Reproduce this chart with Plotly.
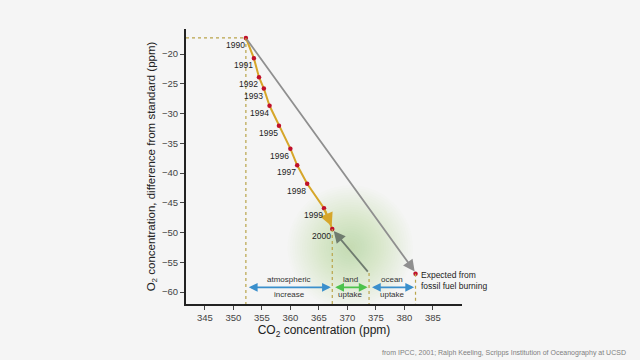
import plotly.graph_objects as go

years = ["1990", "1991", "1992", "1993", "1994", "1995", "1996", "1997", "1998", "1999", "2000"]
co2 = [352.2, 353.6, 354.5, 355.35, 356.35, 358.0, 360.0, 361.2, 362.95, 365.9, 367.35]
o2 = [-17.3, -20.7, -23.9, -25.8, -28.7, -32.05, -35.9, -38.7, -41.8, -45.9, -49.4]
expected_co2 = 381.95
expected_o2 = -56.9
land_co2 = 373.8
land_o2 = -56.8
budget_y = -59.2
budget_labels = [("atmospheric", "increase"), ("land", "uptake"), ("ocean", "uptake")]
x_ticks = [345, 350, 355, 360, 365, 370, 375, 380, 385]
y_ticks = [-20, -25, -30, -35, -40, -45, -50, -55, -60]
glow_center = (370.5, -52.5)

bg = "#f5f5f5"
dot_col = "#b9a44a"
gold = "#d6a62a"
fig = go.Figure()

# green glow
shapes = []
n = 26
for i in range(n):
    r = 11.0 * (n - i) / n
    shapes.append(dict(type="circle", xref="x", yref="y", layer="below",
                       x0=glow_center[0] - r, x1=glow_center[0] + r,
                       y0=glow_center[1] - r * 0.95, y1=glow_center[1] + r * 0.95,
                       fillcolor="rgba(140,215,120,0.018)", line=dict(width=0)))

# dotted guide lines
def dline(x0, y0, x1, y1):
    shapes.append(dict(type="line", xref="x", yref="y", x0=x0, y0=y0, x1=x1, y1=y1,
                       line=dict(color=dot_col, width=1.2, dash="dot")))

dline(341.7, o2[0], co2[0], o2[0])
dline(co2[0], o2[0], co2[0], -62)
dline(co2[-1], o2[-1], co2[-1], -62)
dline(land_co2, land_o2, land_co2, -62)
dline(expected_co2, expected_o2, expected_co2, -62)

# gold line
fig.add_trace(go.Scatter(x=co2, y=o2, mode="lines", line=dict(color=gold, width=2),
                         hoverinfo="skip", showlegend=False))
fig.add_trace(go.Scatter(x=co2 + [expected_co2], y=o2 + [expected_o2], mode="markers",
                         marker=dict(color="#c0102a", size=4.5), showlegend=False))

ann = []
# gold arrowhead
ann.append(dict(x=co2[-1] - 0.1, y=o2[-1] + 0.45, ax=co2[-2], ay=o2[-2], xref="x", yref="y",
                axref="x", ayref="y", showarrow=True, arrowhead=2, arrowsize=1.2,
                arrowwidth=2.2, arrowcolor=gold, text=""))
# gray arrow to expected
ann.append(dict(x=expected_co2 - 0.15, y=expected_o2 + 0.35, ax=co2[0], ay=o2[0], xref="x", yref="y",
                axref="x", ayref="y", showarrow=True, arrowhead=2, arrowsize=1.3,
                arrowwidth=1.8, arrowcolor="#8f8f8f", text=""))
# land uptake arrow
ann.append(dict(x=co2[-1] + 0.25, y=o2[-1] - 0.35, ax=land_co2, ay=land_o2, xref="x", yref="y",
                axref="x", ayref="y", showarrow=True, arrowhead=2, arrowsize=1.3,
                arrowwidth=1.8, arrowcolor="#6f7c6f", text=""))

# budget arrows
segs = [(co2[0], co2[-1], "#3a8fcc"), (co2[-1], land_co2, "#4cc24c"), (land_co2, expected_co2, "#3a8fcc")]
for (a, b, c), (t1, t2) in zip(segs, budget_labels):
    ann.append(dict(x=b - 0.25, y=budget_y, ax=a + 0.25, ay=budget_y, xref="x", yref="y",
                    axref="x", ayref="y", showarrow=True, arrowhead=2, arrowside="end+start",
                    arrowsize=1.1, arrowwidth=1.6, arrowcolor=c, text=""))
    ann.append(dict(x=(a + b) / 2, y=budget_y, xref="x", yref="y", text=t1, showarrow=False,
                    yanchor="bottom", yshift=1, font=dict(size=8, color="#333", family="Liberation Sans")))
    ann.append(dict(x=(a + b) / 2, y=budget_y, xref="x", yref="y", text=t2, showarrow=False,
                    yanchor="top", yshift=-1, font=dict(size=8, color="#333", family="Liberation Sans")))

# year labels
for xv, yv, t in zip(co2, o2, years):
    ann.append(dict(x=xv, y=yv, xref="x", yref="y", text=t, showarrow=False,
                    xanchor="right", yanchor="top", xshift=1, yshift=0,
                    font=dict(size=8.5, color="#222", family="Liberation Sans")))

ann.append(dict(x=expected_co2, y=expected_o2, xref="x", yref="y",
                text="Expected from<br>fossil fuel burning", showarrow=False, align="left",
                xanchor="left", yanchor="top", xshift=3, yshift=6,
                font=dict(size=8.5, color="#222", family="Liberation Sans")))

ann.append(dict(x=1.0, y=0.0, xref="paper", yref="paper",
                text="from IPCC, 2001; Ralph Keeling, Scripps Institution of Oceanography at UCSD",
                showarrow=False, xanchor="right", yanchor="bottom", xshift=166, yshift=-55,
                font=dict(size=7, color="#808080", family="Liberation Sans")))

fig.update_layout(
    width=640, height=360,
    margin=dict(l=186, r=178, t=29, b=56, autoexpand=False),
    paper_bgcolor=bg, plot_bgcolor=bg,
    shapes=shapes, annotations=ann, showlegend=False,
    xaxis=dict(range=[341.7, 390.1], tickvals=x_ticks, showgrid=False, zeroline=False,
               automargin=False,
               showline=True, linecolor="#222", linewidth=2, ticks="outside", ticklen=4,
               tickcolor="#444", tickfont=dict(size=9.5, color="#444", family="Liberation Sans"),
               title=dict(text="CO<sub>2</sub> concentration (ppm)", standoff=2,
                          font=dict(size=12, color="#222", family="Liberation Sans"))),
    yaxis=dict(range=[-62, -15.8], tickvals=y_ticks, showgrid=False, zeroline=False,
               automargin=False,
               showline=True, linecolor="#222", linewidth=2, ticks="outside", ticklen=4,
               tickcolor="#444", tickfont=dict(size=9.5, color="#444", family="Liberation Sans"),
               title=dict(text="O<sub>2</sub> concentration, difference from standard (ppm)",
                          standoff=4, font=dict(size=11.5, color="#222", family="Liberation Sans"))),
)

fig.write_html("out.html", config={"displayModeBar": False},
               post_script="document.body.style.margin='0';document.body.style.background='#f5f5f5';")
